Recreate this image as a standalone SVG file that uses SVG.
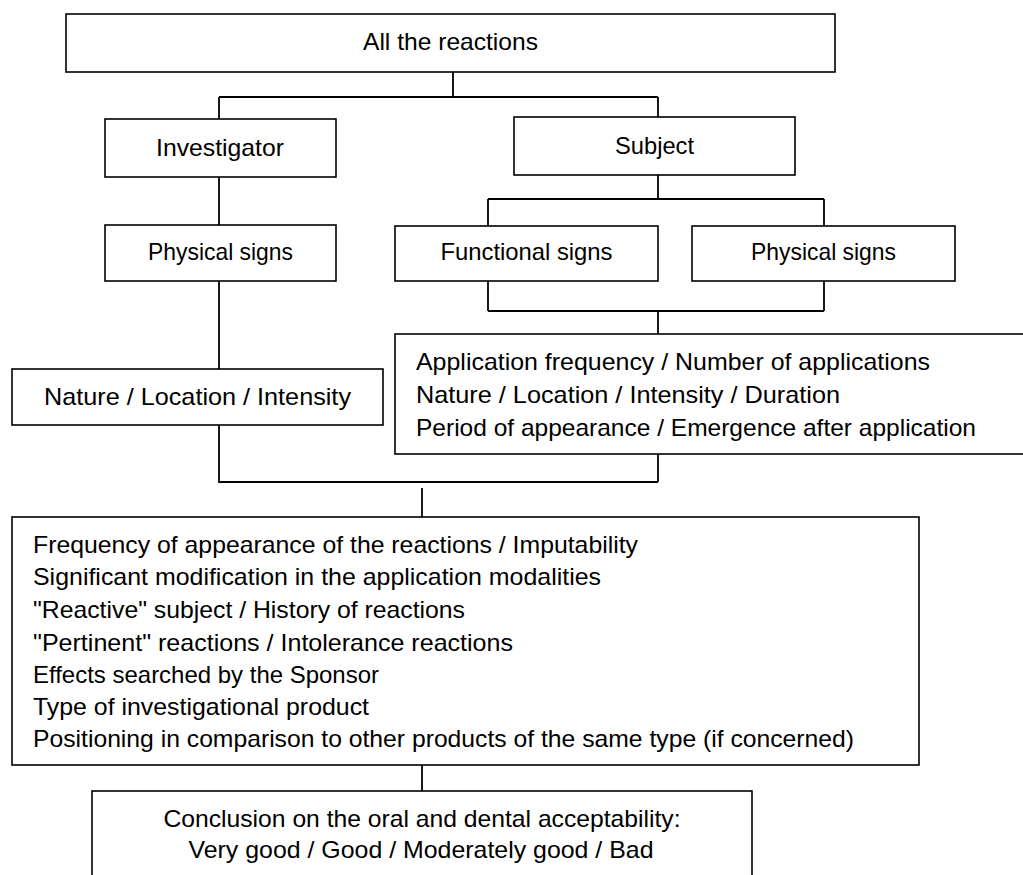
<svg xmlns="http://www.w3.org/2000/svg" width="1023" height="875" viewBox="0 0 1023 875">
<style>
.box{fill:#fff;stroke:#000;stroke-width:1.6}
.ln{fill:none;stroke:#000;stroke-width:1.8}
text{font-family:"Liberation Sans",Arial,sans-serif;font-size:24px;fill:#000}
.c{text-anchor:middle}
</style>
<rect width="1023" height="875" fill="#fff"/>
<g id="connectors" class="ln">
<path d="M453 72V97M219 97H658M219 97V119M658 97V117"/>
<path d="M219 177V225"/>
<path d="M658 175V199M488 199H824M488 199V226M824 199V226"/>
<path d="M219 281V369"/>
<path d="M488 281V311M824 281V311M488 311H824M658 311V334"/>
<path d="M219 425V482H658M658 454V482"/>
<path d="M422 488V517"/>
<path d="M422 765V791"/>
</g>
<g id="all-reactions">
<rect class="box" x="66" y="14" width="769" height="58"/>
<text class="c" x="450.5" y="50" textLength="175" lengthAdjust="spacingAndGlyphs">All the reactions</text>
</g>
<g id="investigator">
<rect class="box" x="105" y="119" width="231" height="58"/>
<text class="c" x="220" y="156" textLength="128" lengthAdjust="spacingAndGlyphs">Investigator</text>
</g>
<g id="subject">
<rect class="box" x="514" y="117" width="281" height="58"/>
<text class="c" x="654.5" y="154" textLength="79" lengthAdjust="spacingAndGlyphs">Subject</text>
</g>
<g id="physical-signs-investigator">
<rect class="box" x="105" y="225" width="231" height="56"/>
<text class="c" x="220.5" y="260" textLength="145" lengthAdjust="spacingAndGlyphs">Physical signs</text>
</g>
<g id="functional-signs">
<rect class="box" x="395" y="226" width="263" height="55"/>
<text class="c" x="526.5" y="260" textLength="172" lengthAdjust="spacingAndGlyphs">Functional signs</text>
</g>
<g id="physical-signs-subject">
<rect class="box" x="692" y="226" width="263" height="55"/>
<text class="c" x="823.5" y="260" textLength="145" lengthAdjust="spacingAndGlyphs">Physical signs</text>
</g>
<g id="nature-location-intensity">
<rect class="box" x="12" y="369" width="371" height="56"/>
<text class="c" x="197.5" y="405" textLength="307" lengthAdjust="spacingAndGlyphs">Nature / Location / Intensity</text>
</g>
<g id="subject-details">
<rect class="box" x="395" y="334" width="640" height="120"/>
<text x="416" y="370" textLength="514" lengthAdjust="spacingAndGlyphs">Application frequency / Number of applications</text>
<text x="416" y="403" textLength="424" lengthAdjust="spacingAndGlyphs">Nature / Location / Intensity / Duration</text>
<text x="416" y="436" textLength="560" lengthAdjust="spacingAndGlyphs">Period of appearance / Emergence after application</text>
</g>
<g id="criteria">
<rect class="box" x="12" y="517" width="907" height="248"/>
<text x="33" y="553" textLength="605" lengthAdjust="spacingAndGlyphs">Frequency of appearance of the reactions / Imputability</text>
<text x="33" y="585" textLength="568" lengthAdjust="spacingAndGlyphs">Significant modification in the application modalities</text>
<text x="33" y="618" textLength="432" lengthAdjust="spacingAndGlyphs">"Reactive" subject / History of reactions</text>
<text x="33" y="651" textLength="480" lengthAdjust="spacingAndGlyphs">"Pertinent" reactions / Intolerance reactions</text>
<text x="33" y="683" textLength="346" lengthAdjust="spacingAndGlyphs">Effects searched by the Sponsor</text>
<text x="33" y="715" textLength="336" lengthAdjust="spacingAndGlyphs">Type of investigational product</text>
<text x="33" y="747" textLength="821" lengthAdjust="spacingAndGlyphs">Positioning in comparison to other products of the same type (if concerned)</text>
</g>
<g id="conclusion">
<rect class="box" x="92" y="791" width="660" height="110"/>
<text class="c" x="422" y="827" textLength="517" lengthAdjust="spacingAndGlyphs">Conclusion on the oral and dental acceptability:</text>
<text class="c" x="421" y="858" textLength="465" lengthAdjust="spacingAndGlyphs">Very good / Good / Moderately good / Bad</text>
</g>
</svg>
